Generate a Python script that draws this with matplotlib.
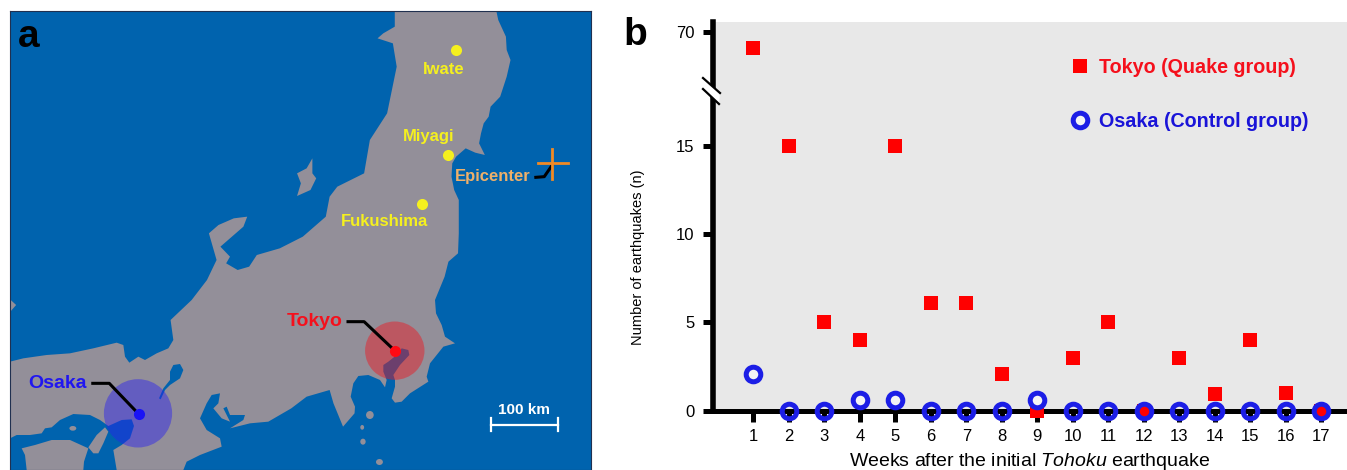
import matplotlib
matplotlib.use("Agg")
import matplotlib.pyplot as plt
from matplotlib.lines import Line2D
from matplotlib.patches import Ellipse, Polygon

plt.rcParams['font.family'] = ['Liberation Sans', 'DejaVu Sans']
plt.rcParams['mathtext.fontset'] = 'custom'
plt.rcParams['mathtext.it'] = 'Liberation Sans:italic'

W, H = 1347, 470

weeks = list(range(1, 18))
tokyo = [65, 15, 5, 4, 15, 6.1, 6.1, 2.1, 0, 3, 5, 0, 3, 0.95, 4, 1, 0]
osaka = [2.1, 0, 0, 0.6, 0.6, 0, 0, 0, 0.6, 0, 0, 0, 0, 0, 0, 0, 0]

low_ticks = [0, 5, 10, 15]
high_ticks = [70]

SEA = '#0063ae'
LAND = '#938f99'
GREY = '#e8e8e8'
RED = '#f50a14'
BLUE = '#1c1ee6'
YELLOW = '#f5f01e'


def crop_to_map(points, x0, y0):
    # points traced on a 3x crop of the picture -> map axes units
    return [(26 + (x0 + x / 3 - 10) * 1516 / 581, 33 + (y0 + y / 3 - 11) * 3) for x, y in points]


# coastlines
north_east = [(1030, 33), (1295, 33), (1300, 60), (1320, 110), (1322, 150), (1332, 180), (1322, 230),
              (1305, 290), (1280, 320), (1275, 350), (1262, 370), (1255, 400), (1250, 430), (1265, 465),
              (1240, 458), (1215, 445), (1190, 470), (1180, 490), (1178, 530), (1185, 570), (1197, 600),
              (1197, 700), (1195, 760), (1170, 785), (1160, 830)]
kanto = crop_to_map([(315, 0), (318, 40), (335, 75), (345, 110), (375, 130), (340, 140), (300, 190), (290, 230),
                     (295, 245), (240, 280), (215, 305), (195, 308), (185, 295), (195, 260), (195, 240), (190, 225),
                     (210, 195), (238, 165), (235, 150), (215, 145), (200, 165), (175, 185), (160, 195), (160, 215),
                     (170, 240), (165, 262), (150, 240), (115, 225), (85, 228), (70, 250), (62, 290), (75, 320)], 330, 300)
izu = [(925, 1240), (895, 1280), (870, 1210), (860, 1170), (800, 1190), (760, 1225), (700, 1265)]
kinki = crop_to_map([(720, 250), (660, 265), (700, 240), (705, 225), (660, 225), (650, 200), (640, 205), (660, 245),
                     (635, 235), (610, 205), (625, 190), (630, 160), (605, 165), (590, 190), (570, 235), (590, 270),
                     (630, 295), (635, 320), (570, 345), (530, 365), (520, 390), (320, 390), (310, 330), (335, 315),
                     (360, 295), (372, 258), (365, 238), (335, 240), (295, 258), (270, 240), (240, 225), (190, 222),
                     (150, 240), (125, 262), (105, 265), (95, 280), (60, 285), (20, 285), (0, 295), (0, 65), (40, 55),
                     (110, 45), (180, 40), (250, 25), (320, 8), (340, 15), (345, 50), (358, 68), (385, 50), (405, 60),
                     (440, 40), (475, 25), (490, 0)], 10, 340)
north_west = [(445, 960), (500, 900), (540, 840), (565, 780), (555, 740), (545, 700), (570, 675), (610, 655),
              (645, 650), (635, 680), (605, 710), (575, 740), (600, 770), (590, 790), (620, 810), (650, 800),
              (670, 765), (730, 745), (790, 710), (850, 650), (860, 590), (880, 560), (950, 520), (965, 420),
              (1010, 340), (1035, 200), (1025, 130), (985, 115), (1000, 100), (1030, 80)]
honshu = north_east + kanto + izu + kinki + north_west

shikoku = crop_to_map([(50, 390), (45, 345), (35, 325), (75, 315), (125, 300), (180, 300), (235, 325), (222, 365), (220, 390)], 10, 340)
awaji = crop_to_map([(235, 322), (260, 285), (285, 262), (295, 275), (280, 310), (265, 340), (250, 340)], 10, 340)
biwa = crop_to_map([(490, 75), (510, 72), (520, 90), (510, 115), (480, 135), (465, 150), (452, 178), (447, 175),
                    (460, 145), (480, 120), (480, 95)], 10, 340)
sado = [(815, 475), (815, 520), (825, 535), (810, 570), (775, 588), (785, 550), (775, 520), (800, 505)]
left_tip = [(26, 898), (42, 915), (26, 936)]
islands = [(965, 1245, 20, 24), (945, 1282, 10, 14), (947, 1325, 14, 18), (990, 1386, 18, 18), (190, 1285, 18, 14)]


def pixel_axes(fig, x0, y0, x1, y1, **kw):
    return fig.add_axes([x0 / W, 1 - y1 / H, (x1 - x0) / W, (y1 - y0) / H], **kw)


def draw_map(fig):
    ax = pixel_axes(fig, 10, 11, 591, 470)
    ax.set_xlim(26, 1542)
    ax.set_ylim(1410, 33)
    ax.set_xticks([])
    ax.set_yticks([])
    ax.set_facecolor(SEA)
    for s in ax.spines.values():
        s.set_color('#203050')
        s.set_linewidth(0.8)

    for shape in [honshu, shikoku, sado, awaji, left_tip]:
        ax.add_patch(Polygon(shape, closed=True, fc=LAND, ec='none'))
    ax.add_patch(Polygon(biwa, closed=True, fc=SEA, ec='none'))
    for x, y, w, h in islands:
        ax.add_patch(Ellipse((x, y), w, h, fc=LAND, ec='none'))

    # felt-area circles
    ax.add_patch(Ellipse((1030, 1052), 155, 175, fc='#f0141e', ec='none', alpha=0.45))
    ax.add_patch(Ellipse((360, 1240), 178, 205, fc='#2a20f0', ec='none', alpha=0.45))

    ax.plot([908, 950, 1030], [965, 965, 1052], color='k', lw=2.2)
    ax.plot([242, 285, 360], [1150, 1150, 1240], color='k', lw=2.2)
    ax.plot([1398, 1420, 1441], [532, 530, 495], color='k', lw=2.2)
    ax.plot([1030], [1052], 'o', color='#ff0a14', ms=8, mew=0)
    ax.plot([362], [1241], 'o', color='#1a14f5', ms=8, mew=0)

    ax.plot([1403, 1482], [490, 490], color='#f08a24', lw=2)
    ax.plot([1441, 1441], [447, 538], color='#f08a24', lw=2)

    ax.plot([1191, 1170, 1101], [150, 464, 612], 'o', color=YELLOW, ms=8, mew=0)
    for name, x, y, col in [('Iwate', 1157, 207, YELLOW), ('Miyagi', 1119, 411, YELLOW),
                            ('Fukushima', 1003, 666, YELLOW), ('Epicenter', 1286, 528, '#eeb06a'),
                            ('Tokyo', 822, 966, '#f5101c'), ('Osaka', 150, 1152, '#2016f0')]:
        size = 14 if name in ('Tokyo', 'Osaka') else 12
        ax.text(x, y, name, color=col, fontsize=size, fontweight='bold', ha='center', va='center')

    ax.plot([1280, 1455], [1275, 1275], color='w', lw=1.6)
    ax.plot([1280, 1280], [1255, 1294], color='w', lw=1.6)
    ax.plot([1455, 1455], [1255, 1294], color='w', lw=1.6)
    ax.text(1367, 1230, '100 km', color='w', fontsize=11, fontweight='bold', ha='center', va='center')
    ax.text(75, 110, 'a', color='k', fontsize=28, fontweight='bold', ha='center', va='center')


def style_axis(ax, ticks):
    ax.set_facecolor(GREY)
    ax.set_xlim(-0.152, 17.72)
    for side in ['top', 'right']:
        ax.spines[side].set_visible(False)
    ax.spines['left'].set_linewidth(4)
    ax.set_yticks(ticks)
    ax.tick_params(axis='y', length=7, width=3.6, pad=6, labelsize=12)


def draw_series(ax, low):
    keep = (lambda v: v < 20) if low else (lambda v: v > 20)
    xs = [w for w, v in zip(weeks, tokyo) if keep(v)]
    ys = [v for v in tokyo if keep(v)]
    ax.plot(xs, ys, 's', color='#ff0000', ms=9.4, mew=0, ls='none', clip_on=False, zorder=5)
    if low:
        # rings on the zero line stay hollow, the raised ones show a pale centre
        x0 = [w for w, v in zip(weeks, osaka) if v == 0]
        x1 = [w for w, v in zip(weeks, osaka) if v > 0]
        y1 = [v for v in osaka if v > 0]
        ax.plot(x0, [0] * len(x0), 'o', mfc='none', mec=BLUE, mew=3.6, ms=10.5, ls='none', clip_on=False, zorder=6)
        ax.plot(x1, y1, 'o', mfc='#f4f4f4', mec=BLUE, mew=3.6, ms=10.5, ls='none', clip_on=False, zorder=6)


def draw_scatter(fig):
    ax_hi = pixel_axes(fig, 712.5, 22, W, 91)
    ax_lo = pixel_axes(fig, 712.5, 91, W, 410.7)

    style_axis(ax_hi, high_ticks)
    ax_hi.set_ylim(51.6, 73)
    ax_hi.spines['bottom'].set_visible(False)
    ax_hi.set_xticks([])

    style_axis(ax_lo, low_ticks)
    ax_lo.set_ylim(0, 18.1)
    ax_lo.spines['bottom'].set_linewidth(3.6)
    ax_lo.set_xticks(weeks)
    ax_lo.tick_params(axis='x', length=8, width=3.6, pad=5, labelsize=12)
    ax_lo.set_xlabel('Weeks after the initial $\\mathit{Tohoku}$ earthquake', fontsize=14, labelpad=5)

    draw_series(ax_hi, False)
    draw_series(ax_lo, True)

    fig.text(638 / W, 1 - 257 / H, 'Number of earthquakes (n)', rotation=90, fontsize=10.5, ha='center', va='center')
    fig.text(635 / W, 1 - 35 / H, 'b', fontsize=28, fontweight='bold', ha='center', va='center')

    handles = [Line2D([], [], marker='s', color='#ff0000', ms=9.4, mew=0, ls='none'),
               Line2D([], [], marker='o', mfc='#f4f4f4', mec=BLUE, mew=3.6, ms=10.5, ls='none')]
    fig.legend(handles, ['Tokyo (Quake group)', 'Osaka (Control group)'], loc='upper left',
               bbox_to_anchor=(1065 / W, 1 - 58 / H), frameon=False, labelcolor=['#f5101c', '#1a14d8'],
               prop={'weight': 'bold', 'size': 14.2}, labelspacing=1.75, handletextpad=0.2,
               handlelength=1.5, borderpad=0, borderaxespad=0)

    # axis break
    top = pixel_axes(fig, 0, 0, W, H)
    top.set_xlim(0, W)
    top.set_ylim(H, 0)
    top.axis('off')
    top.patch.set_alpha(0)
    top.add_patch(Polygon([(703, 78), (720, 93), (719, 104), (703, 89)], closed=True, fc='w', ec='none'))
    top.plot([703, 720], [78, 93], color='k', lw=1.6)
    top.plot([703, 719], [89, 104], color='k', lw=1.6)


fig = plt.figure(figsize=(W / 100, H / 100), dpi=100)
draw_map(fig)
draw_scatter(fig)
fig.savefig('out.png', dpi=100)
